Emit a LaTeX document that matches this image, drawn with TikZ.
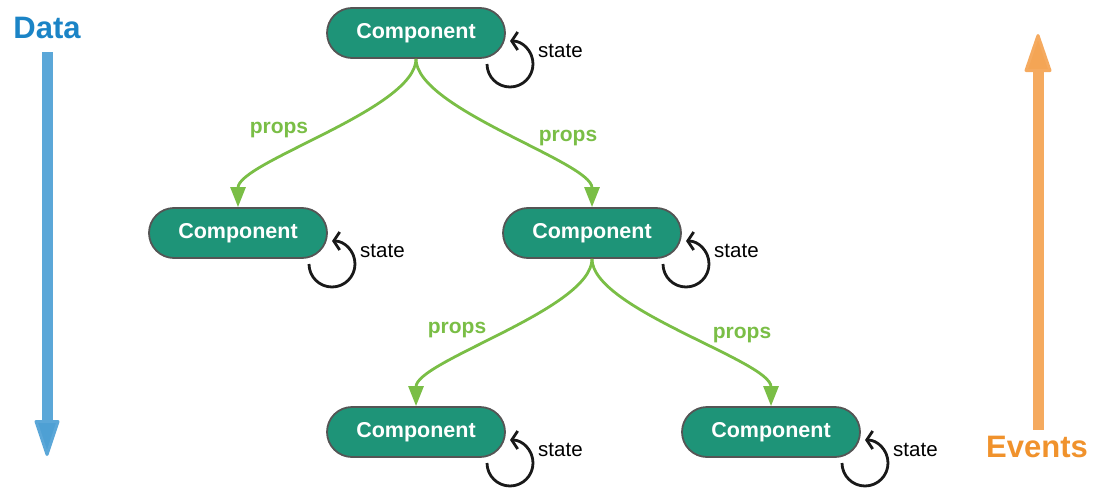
\documentclass[tikz,border=0pt]{standalone}
\usepackage{fontspec}
\setmainfont{Liberation Sans}
\usetikzlibrary{arrows.meta,calc}
\definecolor{nodefill}{RGB}{30,148,120}
\definecolor{nodeline}{RGB}{85,85,85}
\definecolor{propgreen}{RGB}{122,190,70}
\definecolor{datablue}{RGB}{91,167,216}
\definecolor{datatext}{RGB}{27,132,198}
\definecolor{evorange}{RGB}{245,170,95}
\definecolor{evtext}{RGB}{240,146,44}
\tikzset{
  comp/.style={draw=nodeline, line width=1.8pt, fill=nodefill, text=white,
    rounded corners=25pt, minimum width=178pt, minimum height=50pt, inner sep=0pt,
    font=\fontsize{21.5}{24}\selectfont\bfseries},
  propsarrow/.style={draw=propgreen, line width=2.8pt,
    -{Triangle[length=20pt,width=15pt]}},
  propslabel/.style={text=propgreen, anchor=base, inner sep=0pt,
    font=\fontsize{21}{24}\selectfont\bfseries},
  statearc/.style={draw=black!90, line width=2.8pt, -{Straight Barb[length=6pt,width=18pt]}},
  statelabel/.style={anchor=base west, inner sep=0pt, font=\fontsize{20.5}{24}\selectfont},
  biglabel/.style={anchor=base, inner sep=0pt, font=\fontsize{31}{34}\selectfont\bfseries}
}
\newcommand{\stateloop}[1]{%
  \draw[statearc] ($(#1)+(94,31)+(180:23)$) arc[start angle=180, end angle=-90, radius=23];
  \node[statelabel] (#1s) at ($(#1)+(122,24)$) {state};
}
\begin{document}
\begin{tikzpicture}[x=1pt,y=-1pt]
\useasboundingbox (0,0) rectangle (1094,487);
% nodes
\node[comp] (c1) at (416,33) {Component};
\node[comp] (c2) at (238,233) {Component};
\node[comp] (c3) at (592,233) {Component};
\node[comp] (c4) at (416,432) {Component};
\node[comp] (c5) at (771,432) {Component};
% props arrows
\draw[propsarrow] (c1.south) .. controls ($(c1.south)+(0,50)$) and ($(c2.north)+(0,-45)$) .. (c2.north);
\draw[propsarrow] (c1.south) .. controls ($(c1.south)+(0,50)$) and ($(c3.north)+(0,-45)$) .. (c3.north);
\draw[propsarrow] (c3.south) .. controls ($(c3.south)+(0,50)$) and ($(c4.north)+(0,-45)$) .. (c4.north);
\draw[propsarrow] (c3.south) .. controls ($(c3.south)+(0,50)$) and ($(c5.north)+(0,-45)$) .. (c5.north);
\node[propslabel] (p1) at (279,133) {props};
\node[propslabel] (p2) at (568,141) {props};
\node[propslabel] (p3) at (457,333) {props};
\node[propslabel] (p4) at (742,338) {props};
% state loops
\stateloop{c1}
\stateloop{c2}
\stateloop{c3}
\stateloop{c4}
\stateloop{c5}
% data arrow
\node[biglabel, text=datatext] (data) at (47,38) {Data};
\coordinate (dtop) at (47,52);
\coordinate (dbase) at (47,420);
\coordinate (dtip) at (47,456);
\fill[datablue] ($(dtop)+(-5.5,0)$) rectangle ($(dbase)+(5.5,0)$);
\filldraw[fill=datablue!80!datatext, draw=datablue, line width=3pt, line join=round]
  ($(dbase)+(-11,1.5)$) -- ($(dbase)+(11,1.5)$) -- ($(dtip)+(0,-1.5)$) -- cycle;
% events arrow
\node[biglabel, text=evtext] (events) at (1037,457) {Events};
\coordinate (ebot) at (1038,430);
\coordinate (ebase) at (1038,72);
\coordinate (etip) at (1038,34);
\fill[evorange] ($(ebot)+(-5.5,0)$) rectangle ($(ebase)+(5.5,0)$);
\filldraw[fill=evorange!80!evtext, draw=evorange, line width=3pt, line join=round]
  ($(ebase)+(-12,-1.5)$) -- ($(ebase)+(12,-1.5)$) -- ($(etip)+(0,1.5)$) -- cycle;
\end{tikzpicture}
\end{document}
